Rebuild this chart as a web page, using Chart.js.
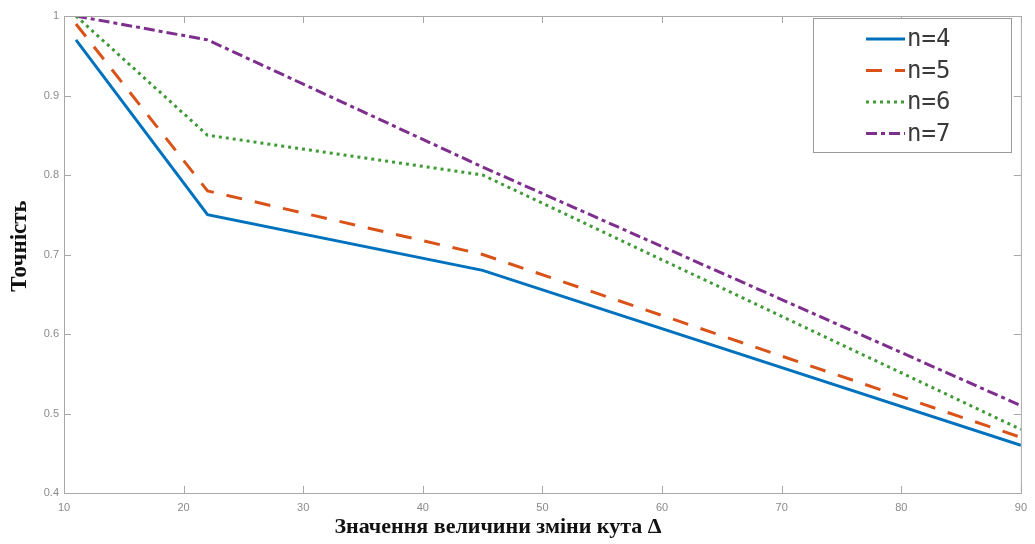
<!DOCTYPE html>
<html>
<head>
<meta charset="utf-8">
<script src="https://cdn.jsdelivr.net/npm/chart.js@4.4.1/dist/chart.umd.min.js"></script>
<style>
  html, body { margin: 0; padding: 0; background: #fff; }
  #wrap { width: 1035px; height: 544px; }
</style>
</head>
<body>
<div id="wrap"><canvas id="accChart" width="1035" height="544"></canvas></div>
<script>
// ================= DATA =================
const angleSteps = [11, 22, 45, 90];
const seriesNames = ["n=4", "n=5", "n=6", "n=7"];
const accN4 = [0.97, 0.75, 0.68, 0.46];
const accN5 = [0.99, 0.78, 0.70, 0.47];
const accN6 = [1.00, 0.85, 0.80, 0.48];
const accN7 = [1.00, 0.97, 0.81, 0.51];
const xTitle = "Значення величини зміни кута Δ";
const yTitle = "Точність";

const toPoints = (ys) => ys.map((y, i) => ({ x: angleSteps[i], y }));

// ================= PLUGINS =================
// MATLAB style box with inward ticks on all sides + axis titles
const boxTicks = {
  id: "boxTicks",
  afterDraw(chart) {
    const { ctx, chartArea: a, scales } = chart;
    ctx.save();
    ctx.strokeStyle = "#a8a8a8";
    ctx.lineWidth = 1;
    ctx.strokeRect(a.left + 0.5, a.top + 0.5, a.right - a.left, a.bottom - a.top);
    const len = 7;
    ctx.beginPath();
    scales.x.ticks.forEach(t => {
      const px = Math.round(scales.x.getPixelForValue(t.value)) + 0.5;
      ctx.moveTo(px, a.bottom); ctx.lineTo(px, a.bottom - len);
      ctx.moveTo(px, a.top); ctx.lineTo(px, a.top + len);
    });
    scales.y.ticks.forEach(t => {
      const py = Math.round(scales.y.getPixelForValue(t.value)) + 0.5;
      ctx.moveTo(a.left, py); ctx.lineTo(a.left + len, py);
      ctx.moveTo(a.right, py); ctx.lineTo(a.right - len, py);
    });
    ctx.stroke();

    ctx.fillStyle = "#111";
    ctx.font = "bold 22px 'Liberation Serif'";
    ctx.textAlign = "center";
    ctx.textBaseline = "middle";
    ctx.fillText(xTitle, 498, 527);

    ctx.translate(20, 246);
    ctx.rotate(-Math.PI / 2);
    ctx.font = "bold 23px 'Liberation Serif'";
    ctx.fillText(yTitle, 0, 0);
    ctx.restore();
  }
};

// boxed legend inside the plot, top right
const boxLegend = {
  id: "boxLegend",
  afterDraw(chart) {
    const { ctx } = chart;
    const x0 = 813, y0 = 18, w = 198, h = 134;
    ctx.save();
    ctx.fillStyle = "#fff";
    ctx.fillRect(x0, y0, w, h);
    ctx.strokeStyle = "#9a9a9a";
    ctx.lineWidth = 1;
    ctx.strokeRect(x0 + 0.5, y0 + 0.5, w, h);
    ctx.font = "24px 'DejaVu Sans Mono'";
    ctx.textBaseline = "middle";
    chart.data.datasets.forEach((ds, i) => {
      const y = 39 + i * 31.5;
      ctx.strokeStyle = ds.borderColor;
      ctx.lineWidth = ds.borderWidth;
      ctx.setLineDash(ds.borderDash || []);
      ctx.beginPath();
      ctx.moveTo(866, y);
      ctx.lineTo(905, y);
      ctx.stroke();
      ctx.setLineDash([]);
      ctx.fillStyle = "#3a3a3a";
      ctx.fillText(ds.label, 907, y + 1);
    });
    ctx.restore();
  }
};

// ================= CHART =================
const dsStyle = [
  { color: "#0072BD", dash: [] },
  { color: "#D95319", dash: [16, 13] },
  { color: "#3f9a35", dash: [3, 4] },
  { color: "#7E2F8E", dash: [11, 4, 4, 4] }
];
const seriesValues = [accN4, accN5, accN6, accN7];

const tickFont = { family: "'Liberation Sans'", size: 11 };

new Chart(document.getElementById("accChart"), {
  type: "line",
  data: {
    datasets: seriesValues.map((vals, i) => ({
      label: seriesNames[i],
      data: toPoints(vals),
      borderColor: dsStyle[i].color,
      borderDash: dsStyle[i].dash,
      borderWidth: 3,
      pointRadius: 0,
      tension: 0,
      fill: false
    }))
  },
  options: {
    responsive: false,
    animation: false,
    layout: { padding: { top: 16, right: 8, left: 0, bottom: 0 } },
    plugins: {
      legend: { display: false },
      tooltip: { enabled: false }
    },
    scales: {
      x: {
        type: "linear",
        min: 10,
        max: 90,
        grid: { display: false, drawTicks: false },
        border: { display: false },
        ticks: { stepSize: 10, padding: 8, color: "#8a8a8a", font: tickFont },
        afterFit(scale) { scale.height = 51; }
      },
      y: {
        min: 0.4,
        max: 1,
        grid: { display: false, drawTicks: false },
        border: { display: false },
        ticks: {
          stepSize: 0.1,
          padding: 5,
          color: "#8a8a8a",
          font: tickFont,
          callback: (v) => String(+v.toFixed(1))
        },
        afterFit(scale) { scale.width = 64; }
      }
    }
  },
  plugins: [boxTicks, boxLegend]
});
</script>
</body>
</html>
